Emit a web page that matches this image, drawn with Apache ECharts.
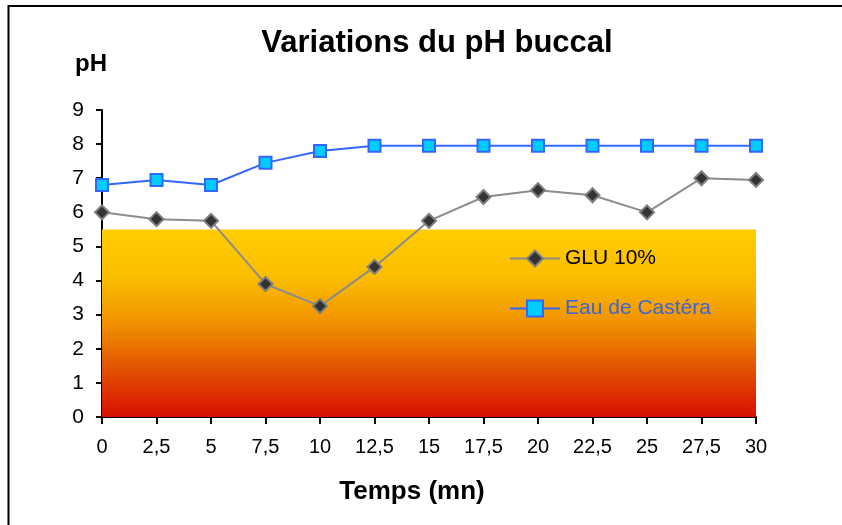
<!DOCTYPE html>
<html>
<head>
<meta charset="utf-8">
<script src="https://cdn.jsdelivr.net/npm/echarts@6/dist/echarts.min.js"></script>
<style>
html,body{margin:0;padding:0;background:#fff;}
#c{width:842px;height:525px;}
</style>
</head>
<body>
<div id="c"></div>
<script>
var times = [0, 2.5, 5, 7.5, 10, 12.5, 15, 17.5, 20, 22.5, 25, 27.5, 30];
var glu = [6.0, 5.8, 5.75, 3.9, 3.25, 4.4, 5.75, 6.45, 6.65, 6.5, 6.0, 7.0, 6.95];
var eau = [6.8, 6.95, 6.8, 7.45, 7.8, 7.95, 7.95, 7.95, 7.95, 7.95, 7.95, 7.95, 7.95];
var seriesNames = ['GLU 10%', 'Eau de Castéra'];
var acidLimit = 5.5;

var FONT = 'Liberation Sans, Arial, sans-serif';
function pairs(ys){ return times.map(function(t,i){ return [t, ys[i]]; }); }

var chart = echarts.init(document.getElementById('c'), null, {renderer:'canvas'});
chart.setOption({
  backgroundColor: '#fff',
  animation: false,
  graphic: [{
    type: 'rect', silent: true, z: 100,
    shape: {x: 8.5, y: 6, width: 900, height: 600},
    style: {fill: 'none', stroke: '#000', lineWidth: 2}
  }],
  title: [
    {text: 'Variations du pH buccal', left: 432, top: 23, textAlign: 'center',
     textStyle: {fontFamily: FONT, fontSize: 31, fontWeight: 'bold', color: '#000'}},
    {text: 'pH', left: 70, top: 47,
     textStyle: {fontFamily: FONT, fontSize: 24, fontWeight: 'bold', color: '#000'}},
    {text: 'Temps (mn)', left: 407, top: 474, textAlign: 'center',
     textStyle: {fontFamily: FONT, fontSize: 26, fontWeight: 'bold', color: '#000'}}
  ],
  legend: {
    orient: 'vertical', left: 504, top: 243,
    itemWidth: 50, itemHeight: 20, itemGap: 29,
    textStyle: {fontFamily: FONT, fontSize: 21},
    data: [
      {name: seriesNames[0], textStyle: {color: '#000'}},
      {name: seriesNames[1], textStyle: {color: '#3D63D8'}}
    ]
  },
  grid: {left: 102, right: 86, top: 110, bottom: 108, containLabel: false},
  xAxis: {
    type: 'value', min: 0, max: 30, interval: 2.5,
    axisLine: {lineStyle: {color: '#000', width: 2}},
    axisTick: {show: true, length: 7, lineStyle: {color: '#000', width: 2}},
    axisLabel: {fontFamily: FONT, fontSize: 20, color: '#000', margin: 20,
      formatter: function(v){ return String(v).replace('.', ','); }},
    splitLine: {show: false}
  },
  yAxis: {
    type: 'value', min: 0, max: 9, interval: 1,
    axisLine: {show: true, lineStyle: {color: '#000', width: 2}},
    axisTick: {show: true, length: 6, lineStyle: {color: '#000', width: 2}},
    axisLabel: {fontFamily: FONT, fontSize: 21, color: '#000', margin: 18},
    splitLine: {show: false}
  },
  series: [
    {
      name: seriesNames[0], type: 'line', data: pairs(glu),
      symbol: 'diamond', symbolSize: 14,
      lineStyle: {color: '#8C8C8C', width: 2},
      itemStyle: {color: '#333333', borderColor: '#7F7F7F', borderWidth: 2},
      markArea: {
        silent: true,
        itemStyle: {
          color: new echarts.graphic.LinearGradient(0, 0, 0, 1, [
            {offset: 0, color: '#FFCC00'},
            {offset: 0.25, color: '#FBBE00'},
            {offset: 0.5, color: '#F09200'},
            {offset: 0.75, color: '#E25000'},
            {offset: 1, color: '#D81000'}
          ])
        },
        data: [[{xAxis: 0, yAxis: 0}, {xAxis: 30, yAxis: acidLimit}]]
      },
      z: 3
    },
    {
      name: seriesNames[1], type: 'line', data: pairs(eau),
      symbol: 'rect', symbolSize: 12,
      lineStyle: {color: '#3366FF', width: 2},
      itemStyle: {color: '#00CCFF', borderColor: '#3366FF', borderWidth: 2},
      z: 4
    }
  ]
});
</script>
</body>
</html>
